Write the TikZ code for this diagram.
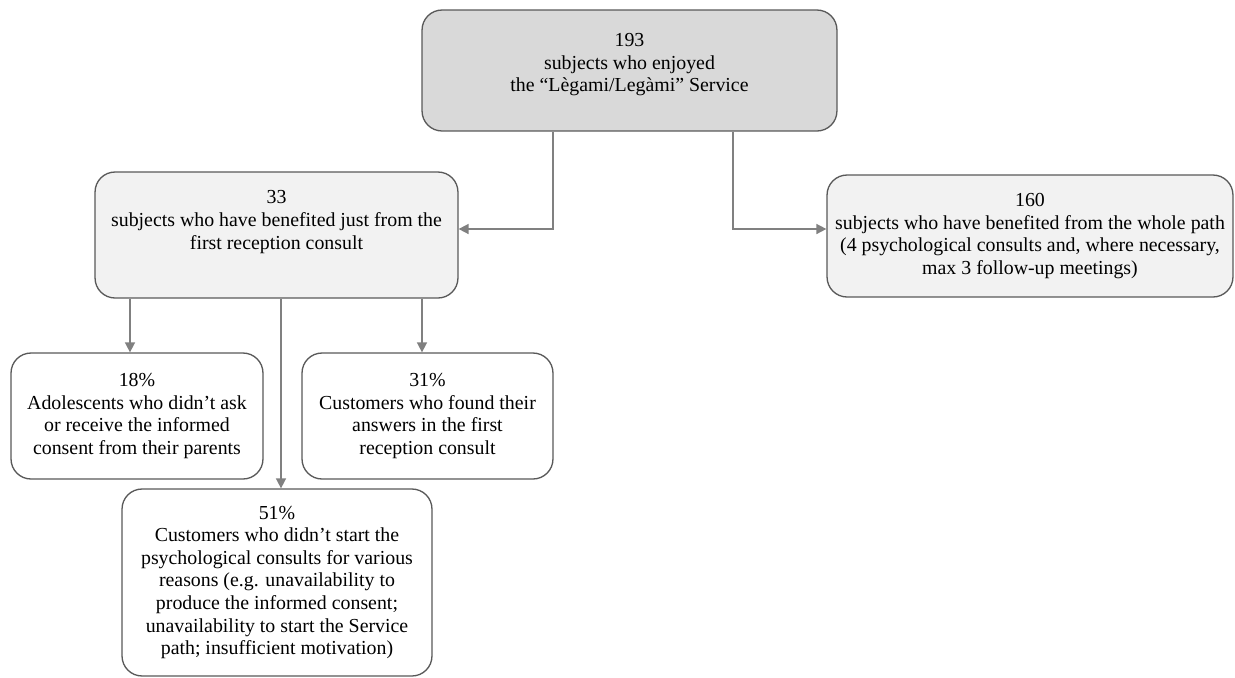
\documentclass[tikz,border=0pt]{standalone}
\usepackage{fontspec}
\setmainfont{Liberation Serif}
\usetikzlibrary{arrows.meta}
\definecolor{boxline}{HTML}{595959}
\definecolor{linkgray}{HTML}{808080}
\definecolor{topfill}{HTML}{D9D9D9}
\definecolor{midfill}{HTML}{F2F2F2}

\tikzset{
  box/.style={draw=boxline, line width=0.75pt, rounded corners=4mm, align=center,
    inner sep=0pt, font=\fontsize{11.3}{12.9}\selectfont},
  link/.style={draw=linkgray, line width=0.9pt, -{Triangle[length=2mm,width=2mm]}}
}

\begin{document}
\begin{tikzpicture}[x=0.02cm, y=-0.02cm]
  \useasboundingbox (0,0) rectangle (1235,677);

  % boxes
  \node[box, fill=topfill, minimum width=415*0.2mm, minimum height=121*0.2mm, text depth=3.2mm] (top) at (629.5,70.5)
    {193\\subjects who enjoyed\\the “Lègami/Legàmi” Service};
  \node[box, fill=midfill, minimum width=363*0.2mm, minimum height=126*0.2mm, text depth=6mm] (n33) at (276.5,235)
    {33\\subjects who have benefited just from the\\first reception consult};
  \node[box, fill=midfill, minimum width=406*0.2mm, minimum height=122*0.2mm] (n160) at (1030,236)
    {160\\subjects who have benefited from the whole path\\(4 psychological consults and, where necessary,\\max 3 follow-up meetings)};
  \node[box, fill=white, minimum width=252*0.2mm, minimum height=126*0.2mm] (n18) at (137,416)
    {18\%\\Adolescents who didn’t ask\\or receive the informed\\consent from their parents};
  \node[box, fill=white, minimum width=251*0.2mm, minimum height=126*0.2mm] (n31) at (427.5,416)
    {31\%\\Customers who found their\\answers in the first\\reception consult};
  \node[box, fill=white, minimum width=310*0.2mm, minimum height=187*0.2mm] (n51) at (277,582.5)
    {51\%\\Customers who didn’t start the\\psychological consults for various\\reasons (e.g. unavailability to\\produce the informed consent;\\unavailability to start the Service\\path; insufficient motivation)};

  % connectors
  \coordinate (bendL) at (553,229);
  \coordinate (bendR) at (733,229);
  \coordinate (dropA) at (130,0);
  \coordinate (dropB) at (281,0);
  \coordinate (dropC) at (422,0);
  \draw[link] (top.south -| bendL) -- (bendL) -- (n33.east |- bendL);
  \draw[link] (top.south -| bendR) -- (bendR) -- (n160.west |- bendR);
  \draw[link] (n33.south -| dropA) -- (n18.north -| dropA);
  \draw[link] (n33.south -| dropB) -- (n51.north -| dropB);
  \draw[link] (n33.south -| dropC) -- (n31.north -| dropC);
\end{tikzpicture}
\end{document}
